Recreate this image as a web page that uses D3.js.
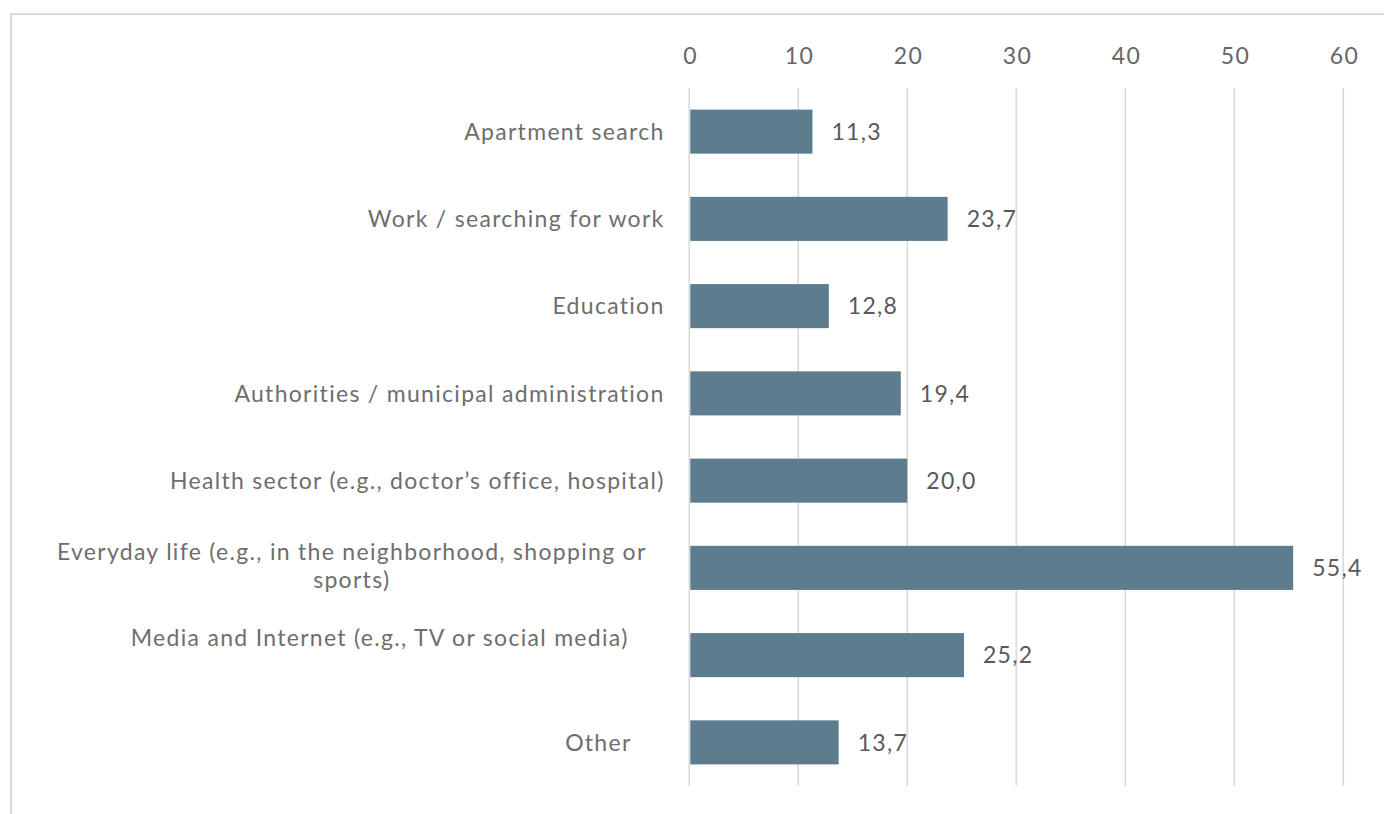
<!DOCTYPE html>
<html>
<head>
<meta charset="utf-8">
<script src="https://cdn.jsdelivr.net/npm/d3@7"></script>
<style>
  html, body { margin: 0; padding: 0; background: #ffffff; }
  svg { display: block; }
  text { font-family: Lato, "Noto Sans", sans-serif; letter-spacing: 1.3px; }
</style>
</head>
<body>
<svg id="chart" width="1384" height="814"></svg>
<script>
// Categories (top to bottom); multi-line labels are split into lines
const categories = [
  ["Apartment search"],
  ["Work / searching for work"],
  ["Education"],
  ["Authorities / municipal administration"],
  ["Health sector (e.g., doctor\u2019s office, hospital)"],
  ["Everyday life (e.g., in the neighborhood, shopping or", "sports)"],
  ["Media and Internet (e.g., TV or social media)"],
  ["Other"]
];
const values = [11.3, 23.7, 12.8, 19.4, 20.0, 55.4, 25.2, 13.7];
const tickValues = [0, 10, 20, 30, 40, 50, 60];

const svg = d3.select("#chart");
const W = 1384, H = 814;
const LS = 1.3;   // letter spacing used for all text
const FS = 23;    // font size used for all text

// outer chart frame
svg.append("rect")
  .attr("x", 11).attr("y", 14)
  .attr("width", W + 20).attr("height", H + 20)
  .attr("fill", "#ffffff")
  .attr("stroke", "#d9d9d9").attr("stroke-width", 2);

const plot = { left: 689.3, right: 1343.3, top: 88, bottom: 786 };

const x = d3.scaleLinear().domain([0, 60]).range([plot.left, plot.right]);
const y = d3.scaleBand()
  .domain(d3.range(categories.length))
  .range([plot.top, plot.bottom])
  .paddingInner(0.495)
  .paddingOuter(0.2475);

// vertical gridlines
svg.append("g").selectAll("line")
  .data(tickValues)
  .join("line")
  .attr("x1", d => x(d)).attr("x2", d => x(d))
  .attr("y1", plot.top).attr("y2", plot.bottom)
  .attr("stroke", "#d9d9d9").attr("stroke-width", 1.6);

// top axis tick labels
const axis = d3.axisTop(x).tickValues(tickValues).tickSize(0).tickPadding(0);
const gAxis = svg.append("g").attr("transform", "translate(0,64)").call(axis);
gAxis.select(".domain").remove();
gAxis.selectAll("text")
  .attr("font-family", "Lato, 'Noto Sans', sans-serif")
  .attr("font-size", FS)
  .attr("fill", "#666666")
  .attr("dx", LS / 2)
  .attr("dy", 0);

// bars
const barColor = "#5d7d8f";
svg.append("g").selectAll("rect")
  .data(values)
  .join("rect")
  .attr("x", x(0) + 1)
  .attr("y", (d, i) => y(i))
  .attr("width", d => x(d) - x(0) - 1)
  .attr("height", y.bandwidth())
  .attr("fill", barColor);

// value labels
const fmt = d => d.toFixed(1).replace(".", ",");
svg.append("g").selectAll("text")
  .data(values)
  .join("text")
  .attr("x", d => x(d) + 19)
  .attr("y", (d, i) => y(i) + y.bandwidth() / 2)
  .attr("dy", "0.36em")
  .attr("font-size", FS)
  .attr("fill", "#595959")
  .text(d => fmt(d));

// category labels; a few labels sit off the default right edge / centre
const labelNudge = { 5: { dx: -18, dy: -2 }, 6: { dx: -36, dy: -17 }, 7: { dx: -33, dy: 0 } };
const lineH = 28;
const gLab = svg.append("g");
categories.forEach((lines, i) => {
  const n = labelNudge[i] || { dx: 0, dy: 0 };
  const cy = y(i) + y.bandwidth() / 2 + n.dy;
  const right = x(0) - 26 + LS + n.dx;
  const t = gLab.append("text")
    .attr("font-size", FS)
    .attr("fill", "#6e6e6e");
  if (lines.length === 1) {
    t.attr("x", right).attr("y", cy).attr("dy", "0.36em")
      .attr("text-anchor", "end").text(lines[0]);
  } else {
    // multi-line block: right-aligned block, lines centred within it
    const tmp = gLab.append("text").attr("font-size", FS).text(lines[0]);
    const w = tmp.node().getComputedTextLength();
    tmp.remove();
    const mid = right - w / 2;
    lines.forEach((ln, k) => {
      t.append("tspan")
        .attr("x", mid)
        .attr("y", cy + (k - (lines.length - 1) / 2) * lineH)
        .attr("dy", "0.36em")
        .attr("text-anchor", "middle")
        .text(ln);
    });
  }
});
</script>
</body>
</html>
